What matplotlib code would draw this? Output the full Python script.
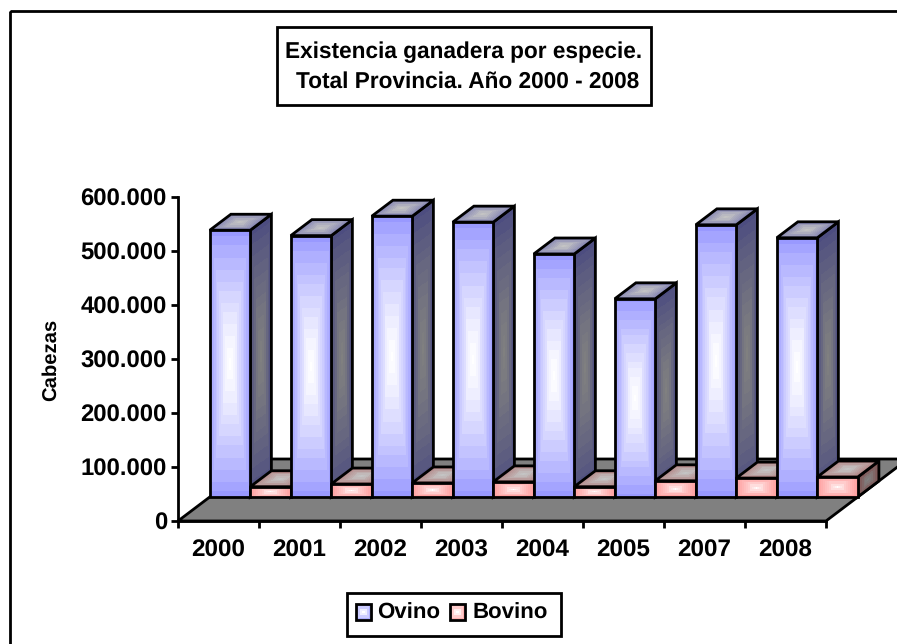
import numpy as np
import matplotlib
matplotlib.use("Agg")
import matplotlib.pyplot as plt
from matplotlib.patches import Polygon, Rectangle

#============================================
years = ["2000", "2001", "2002", "2003", "2004", "2005", "2007", "2008"]
ovino = [494000, 484000, 520000, 509000, 450000, 367000, 504000, 480000]
bovino = [19000, 24000, 26000, 28000, 19000, 30000, 35000, 37000]
y_ticks = [0, 100000, 200000, 300000, 400000, 500000, 600000]
y_tick_labels = ["0", "100.000", "200.000", "300.000", "400.000", "500.000", "600.000"]
#============================================

W, H = 897, 644
LW = 2.0

# oblique projection of the floor, full depth in data units
DEPTH_X = 82 / 81
DEPTH_Y = 62 / 0.00054
BAR_D0 = 24 / 62
BAR_D1 = 40 / 62

plt.rcParams["font.family"] = ["Liberation Sans", "DejaVu Sans"]
plt.rcParams["font.weight"] = "bold"
plt.rcParams["text.hinting"] = "no_hinting"

fig = plt.figure(figsize=(W / 100, H / 100), dpi=100)
page = fig.add_axes([0, 0, 1, 1])
page.set_xlim(0, W)
page.set_ylim(H, 0)
page.axis("off")

ax = fig.add_axes([178 / W, 1 - 521 / H, 648 / W, 324 / H])
ax.patch.set_alpha(0)
ax.set_xlim(0, len(years))
ax.set_ylim(0, 600000)


def proj(x, v, d):
    return x + d * DEPTH_X, v + d * DEPTH_Y


def band_colors(nu, nv, edge, center, power):
    uu = (np.arange(nu) + 0.5) / nu
    vv = (np.arange(nv) + 0.5) / nv
    u, v = np.meshgrid(uu, vv)
    t = np.maximum(np.abs(2 * u - 1), np.abs(2 * v - 1))
    t = np.round(t * 12) / 12
    t = t ** power
    edge = np.array(edge) / 255
    center = np.array(center) / 255
    return (t[..., None] * edge + (1 - t[..., None]) * center)


def face(a, p0, p1, p2, edge, center, z, nu=13, nv=15, lw=LW, power=1.3):
    # p0 corner, p1 along u, p2 along v
    p0, p1, p2 = np.array(p0), np.array(p1), np.array(p2)
    uu = np.linspace(0, 1, nu + 1)
    vv = np.linspace(0, 1, nv + 1)
    u, v = np.meshgrid(uu, vv)
    xs = p0[0] + u * (p1[0] - p0[0]) + v * (p2[0] - p0[0])
    ys = p0[1] + u * (p1[1] - p0[1]) + v * (p2[1] - p0[1])
    a.pcolormesh(xs, ys, band_colors(nu, nv, edge, center, power), shading="flat",
                 antialiased=False, linewidth=0, zorder=z, clip_on=False)
    p3 = p1 + p2 - p0
    a.add_patch(Polygon([p0, p1, p3, p2], closed=True, fill=False, edgecolor="black",
                        linewidth=lw, joinstyle="miter", zorder=z + 0.1, clip_on=False))


def bar3d(x0, w, val, colors, z):
    fr, sd, tp = colors
    bl = proj(x0, 0, BAR_D0)
    br = proj(x0 + w, 0, BAR_D0)
    tl = proj(x0, val, BAR_D0)
    tr = proj(x0 + w, val, BAR_D0)
    rb = proj(x0 + w, 0, BAR_D1)
    bt = proj(x0, val, BAR_D1)
    rows = max(9, int(val * 0.00054 / 3))
    power = 1.3 if rows > 9 else 0.8
    face(ax, br, rb, tr, sd, (128, 128, 128), z, nu=11, nv=rows)
    face(ax, tl, tr, bt, tp, (196, 196, 196), z + 0.2, nu=21, nv=9)
    face(ax, bl, br, tl, fr, (255, 255, 255), z + 0.4, nu=21, nv=rows, power=power)


# floor
n = len(years)
floor = [proj(0, 0, 0), proj(n, 0, 0), proj(n, 0, 1), proj(0, 0, 1)]
ax.add_patch(Polygon(floor, closed=True, facecolor="#808080", edgecolor="black",
                     linewidth=LW, zorder=1, clip_on=False))

blue = ((153, 153, 255), (77, 77, 128), (128, 128, 178))
red = ((255, 153, 153), (128, 77, 77), (178, 128, 128))
for i in range(n):
    bar3d(i, 0.5, ovino[i], blue, 2 + i * 2)
    bar3d(i + 0.5, 0.5, bovino[i], red, 3 + i * 2)

# axes
for s in ["top", "right"]:
    ax.spines[s].set_visible(False)
for s in ["left", "bottom"]:
    ax.spines[s].set_linewidth(LW)
    ax.spines[s].set_zorder(30)
ax.set_yticks(y_ticks)
ax.set_yticklabels(y_tick_labels, fontsize=17.2, fontweight="bold")
ax.set_xticks(np.arange(n + 1))
ax.set_xticklabels([""] * (n + 1))
ax.set_xticks(np.arange(n) + 0.5, minor=True)
ax.set_xticklabels(years, minor=True, fontsize=17.5, fontweight="bold")
ax.tick_params(axis="y", length=5, width=LW, pad=3)
ax.tick_params(axis="x", which="major", length=5, width=LW)
ax.tick_params(axis="x", which="minor", length=0, pad=13)

page.text(51, 360, "Cabezas", rotation=90, ha="center", va="center", fontsize=14.6, fontweight="bold")

# outer frame runs off the picture on the right and bottom
page.add_patch(Rectangle((10, 11), W, H, fill=False, edgecolor="black", linewidth=LW, clip_on=False))

# title box
page.add_patch(Rectangle((277, 27), 374, 78, facecolor="white", edgecolor="black", linewidth=LW))
page.text(464, 52, "Existencia ganadera por especie.", ha="center", va="center", fontsize=16.3, fontweight="bold")
page.text(468, 82, "Total Provincia. Año 2000 - 2008", ha="center", va="center", fontsize=16.3, fontweight="bold")

# legend box
page.add_patch(Rectangle((347, 593), 214, 43, facecolor="white", edgecolor="black", linewidth=LW))
face(page, (356, 604), (371, 604), (356, 620), (153, 153, 255), (255, 255, 255), 5, nu=7, nv=7)
page.text(377, 613, "Ovino", ha="left", va="center", fontsize=16, fontweight="bold")
face(page, (450, 604), (465, 604), (450, 620), (255, 153, 153), (255, 255, 255), 5, nu=7, nv=7)
page.text(473, 613, "Bovino", ha="left", va="center", fontsize=16, fontweight="bold")

fig.savefig("out.png", dpi=100)
